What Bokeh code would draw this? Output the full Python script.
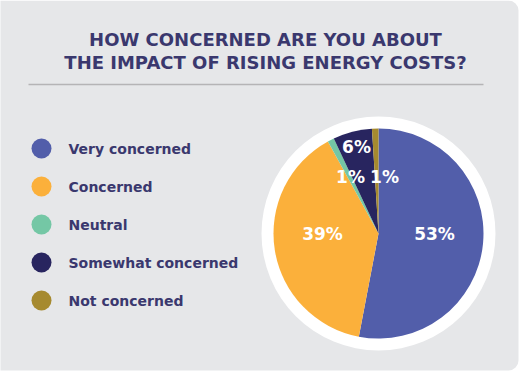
import numpy as np
from bokeh.plotting import figure
from bokeh.models import ColumnDataSource, BoxAnnotation
from bokeh.core.properties import value
from bokeh.embed import file_html
from bokeh.resources import INLINE

# ---- data ----
title_lines = ["HOW CONCERNED ARE YOU ABOUT", "THE IMPACT OF RISING ENERGY COSTS?"]
categories = ["Very concerned", "Concerned", "Neutral", "Somewhat concerned", "Not concerned"]
percents = [53, 39, 1, 6, 1]
colors = ["#525EAA", "#FBB03B", "#74C7A5", "#28255F", "#A68A2F"]

W, H = 520, 372
BG = "#E6E7E9"
TXT = "#3A386E"
FONT = "DejaVu Sans"

p = figure(width=W, height=H, x_range=(0, W), y_range=(0, H),
           output_backend="svg", toolbar_location=None, min_border=0,
           background_fill_color="white", border_fill_color="white")
p.axis.visible = False
p.grid.visible = False
p.outline_line_color = None

p.add_layout(BoxAnnotation(left=-20, right=518, bottom=2, top=372, fill_color=BG,
                           fill_alpha=1, line_color=None, border_radius=10, level="underlay"))

def Y(ref_y):
    return H - ref_y

# title
p.text(x=[265, 265], y=[Y(39), Y(62)], text=title_lines, text_align="center",
       text_baseline="middle", text_font=value(FONT), text_font_style="bold",
       text_font_size="18px", text_color=TXT)
p.segment(x0=[28], y0=[Y(84)], x1=[483], y1=[Y(84)], line_color="#B5B4B6", line_width=1.5)

# legend
ly = [Y(148 + 38 * i) for i in range(len(categories))]
p.scatter(x=[41] * len(categories), y=ly, size=20, fill_color=colors, line_color=None)
p.text(x=[68] * len(categories), y=ly, text=categories, text_baseline="middle",
       text_font=value(FONT), text_font_style="bold", text_font_size="14px", text_color=TXT)

# pie
cx, cy = 378, Y(233)
p.circle(x=[cx], y=[cy], radius=117, fill_color="white", line_color=None)
frac = np.array(percents) / sum(percents)
cum = np.concatenate([[0], np.cumsum(frac)])
start = np.pi / 2 - cum[:-1] * 2 * np.pi
end = np.pi / 2 - cum[1:] * 2 * np.pi
src = ColumnDataSource(dict(start=start, end=end, color=colors))
p.wedge(x=cx, y=cy, radius=105, start_angle="start", end_angle="end",
        direction="clock", fill_color="color", line_color=None, source=src)

# labels (layout offsets from pie center)
lab_off = [(56, 0), (-56, 0), (-28, 57), (-22, 87), (6, 57)]
p.text(x=[cx + o[0] for o in lab_off], y=[cy + o[1] for o in lab_off],
       text=[f"{v}%" for v in percents], text_align="center", text_baseline="middle",
       text_font=value(FONT), text_font_style="bold", text_font_size="17px",
       text_color="white")

open("out.html", "w").write(file_html(p, INLINE))
